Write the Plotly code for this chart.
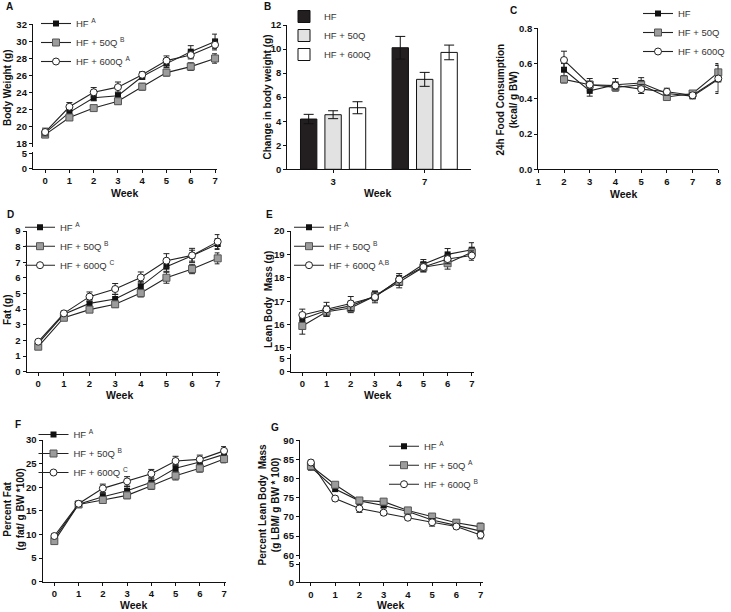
import plotly.graph_objects as go

W, H = 731, 612

weeks = [0, 1, 2, 3, 4, 5, 6, 7]
weeks_food = [2, 3, 4, 5, 6, 7, 8]
groups = ["HF", "HF + 50Q", "HF + 600Q"]

# A: body weight (g)
bw_hf = [19.3, 21.7, 23.4, 23.65, 25.9, 27.4, 28.8, 30.0]
bw_50q = [19.1, 21.1, 22.2, 23.0, 24.7, 26.35, 27.05, 28.0]
bw_600q = [19.4, 22.35, 24.05, 24.65, 26.1, 27.75, 28.4, 29.6]
bw_hf_err = [0.4, 0.4, 0.35, 0.4, 0.35, 0.45, 0.7, 0.85]
bw_50q_err = [0.35, 0.35, 0.3, 0.35, 0.4, 0.4, 0.45, 0.55]
bw_600q_err = [0.45, 0.5, 0.55, 0.6, 0.35, 0.55, 0.45, 0.6]

# B: change in body weight (g)
chg_weeks = ["3", "7"]
chg_hf = [4.18, 10.11]
chg_50q = [4.54, 7.48]
chg_600q = [5.12, 9.72]
chg_hf_err = [0.39, 0.94]
chg_50q_err = [0.33, 0.58]
chg_600q_err = [0.5, 0.61]
chg_letters = [["", "A"], ["", "B"], ["", "A"]]

# C: 24h food consumption (kcal/ g BW)
food_hf = [0.565, 0.445, 0.48, 0.49, 0.43, 0.415, 0.51]
food_50q = [0.51, 0.48, 0.465, 0.48, 0.41, 0.43, 0.55]
food_600q = [0.62, 0.48, 0.475, 0.455, 0.44, 0.42, 0.515]
food_hf_err = [0.035, 0.03, 0.035, 0.03, 0.02, 0.015, 0.08]
food_50q_err = [0.02, 0.02, 0.02, 0.02, 0.015, 0.015, 0.05]
food_600q_err = [0.05, 0.035, 0.02, 0.025, 0.02, 0.015, 0.075]

# D: fat (g)
fat_hf = [1.81, 3.67, 4.37, 4.65, 5.46, 6.72, 7.42, 8.17]
fat_50q = [1.6, 3.45, 3.97, 4.31, 5.03, 6.01, 6.57, 7.25]
fat_600q = [1.92, 3.73, 4.8, 5.29, 6.03, 7.1, 7.44, 8.32]
fat_hf_err = [0.1, 0.15, 0.25, 0.3, 0.3, 0.3, 0.35, 0.35]
fat_50q_err = [0.1, 0.12, 0.15, 0.2, 0.25, 0.35, 0.3, 0.35]
fat_600q_err = [0.1, 0.15, 0.3, 0.35, 0.35, 0.45, 0.45, 0.45]

# E: lean body mass (g)
lean_hf = [16.24, 16.6, 16.8, 17.22, 17.9, 18.58, 19.0, 19.2]
lean_50q = [15.94, 16.55, 16.71, 17.22, 17.82, 18.45, 18.62, 19.09]
lean_600q = [16.41, 16.65, 16.9, 17.18, 17.93, 18.46, 18.8, 18.95]
lean_hf_err = [0.25, 0.2, 0.2, 0.2, 0.2, 0.2, 0.25, 0.3]
lean_50q_err = [0.35, 0.2, 0.2, 0.2, 0.25, 0.2, 0.25, 0.2]
lean_600q_err = [0.25, 0.3, 0.3, 0.25, 0.25, 0.2, 0.2, 0.2]

# F: percent fat
pfat_hf = [9.17, 16.4, 18.0, 19.27, 21.03, 24.0, 25.34, 26.96]
pfat_50q = [8.6, 16.35, 17.3, 18.28, 20.32, 22.44, 24.0, 25.97]
pfat_600q = [9.67, 16.5, 19.76, 21.24, 22.87, 25.55, 25.9, 27.7]
pfat_hf_err = [0.4, 0.5, 0.7, 0.9, 0.9, 0.8, 0.7, 0.8]
pfat_50q_err = [0.4, 0.5, 0.6, 0.7, 0.8, 0.9, 0.8, 0.8]
pfat_600q_err = [0.4, 0.5, 0.9, 1.0, 0.9, 1.0, 0.9, 0.9]

# G: percent lean body mass
plean_hf = [83.0, 77.3, 74.2, 73.0, 71.4, 69.2, 67.8, 66.3]
plean_50q = [83.3, 78.4, 74.3, 74.0, 71.7, 70.1, 68.5, 67.4]
plean_600q = [84.2, 74.8, 72.2, 71.1, 69.8, 68.6, 67.5, 65.3]
plean_hf_err = [0.8, 0.7, 0.6, 0.6, 0.5, 0.6, 0.6, 1.0]
plean_50q_err = [0.8, 0.6, 0.6, 0.6, 0.6, 0.6, 0.6, 1.0]
plean_600q_err = [0.6, 0.6, 1.0, 0.6, 0.6, 1.0, 0.6, 1.0]

FONT = "Liberation Sans, Arial, sans-serif"
INK = "#111111"

marker_styles = [
    dict(symbol="square", size=6, color=INK, line=dict(width=0)),
    dict(symbol="square", size=7, color="#9c9c9c", line=dict(color="#555555", width=1)),
    dict(symbol="circle", size=7, color="white", line=dict(color="#222222", width=1)),
]
bar_fills = ["#231f20", "#e2e2e2", "#ffffff"]


def xd(a, b):
    return [a / W, b / W]


def yd(top, bot):
    return [1 - bot / H, 1 - top / H]


axis_style = dict(
    showline=True, linecolor=INK, linewidth=1.3, ticks="outside", ticklen=3,
    tickwidth=1.3, tickcolor=INK, showgrid=False, zeroline=False, automargin=False,
    tickfont=dict(family=FONT, size=9.5, color=INK, weight="bold"),
)

fig = go.Figure()


def add_lines(x, series, errs, sups, xa, ya, legend):
    for i, (name, ys, es, sup) in enumerate(zip(groups, series, errs, sups)):
        label = name + (" <sup>" + sup + "</sup>" if sup else "")
        fig.add_trace(go.Scatter(
            x=x, y=ys, mode="lines+markers", name=label,
            line=dict(color="#222222", width=1.1),
            marker=marker_styles[i],
            error_y=dict(type="data", array=es, color="#222222", thickness=1, width=3),
            xaxis=xa, yaxis=ya, legend=legend, cliponaxis=False,
        ))


def add_break_stub(xa, ya):
    # empty trace so the lower segment of a broken y axis gets its own subplot
    fig.add_trace(go.Scatter(x=[], y=[], xaxis=xa, yaxis=ya, showlegend=False, hoverinfo="skip"))


add_lines(weeks, [bw_hf, bw_50q, bw_600q], [bw_hf_err, bw_50q_err, bw_600q_err],
          ["A", "B", "A"], "x", "y", "legend")
add_break_stub("x", "y2")

for i, (vals, errs) in enumerate(zip([chg_hf, chg_50q, chg_600q],
                                     [chg_hf_err, chg_50q_err, chg_600q_err])):
    fig.add_trace(go.Bar(
        x=chg_weeks, y=vals, name=groups[i],
        marker=dict(color=bar_fills[i], line=dict(color=INK, width=1)),
        error_y=dict(type="data", array=errs, color=INK, thickness=1, width=5),
        xaxis="x2", yaxis="y3", legend="legend2",
    ))

add_lines(weeks_food, [food_hf, food_50q, food_600q],
          [food_hf_err, food_50q_err, food_600q_err], ["", "", ""], "x3", "y4", "legend3")
add_lines(weeks, [fat_hf, fat_50q, fat_600q], [fat_hf_err, fat_50q_err, fat_600q_err],
          ["A", "B", "C"], "x4", "y5", "legend4")
add_lines(weeks, [lean_hf, lean_50q, lean_600q], [lean_hf_err, lean_50q_err, lean_600q_err],
          ["A", "B", "A,B"], "x5", "y6", "legend5")
add_break_stub("x5", "y7")
add_lines(weeks, [pfat_hf, pfat_50q, pfat_600q], [pfat_hf_err, pfat_50q_err, pfat_600q_err],
          ["A", "B", "C"], "x6", "y8", "legend6")
add_lines(weeks, [plean_hf, plean_50q, plean_600q],
          [plean_hf_err, plean_50q_err, plean_600q_err], ["A", "A", "B"], "x7", "y9", "legend7")
add_break_stub("x7", "y10")

wk_axis = dict(axis_style, dtick=1, tick0=0)
fig.update_layout(
    width=W, height=H, margin=dict(l=0, r=0, t=0, b=0, autoexpand=False),
    paper_bgcolor="white", plot_bgcolor="white",
    bargap=0.2, bargroupgap=0.33,
    # A
    xaxis=dict(wk_axis, domain=xd(33, 217), range=[-0.5, 7.08], anchor="y2"),
    yaxis=dict(axis_style, domain=yd(24.3, 147.4), range=[17.6, 32],
               tickvals=[18, 20, 22, 24, 26, 28, 30, 32], anchor="x"),
    yaxis2=dict(axis_style, domain=yd(152, 168.8), range=[0, 5.5], tickvals=[0, 5], anchor="x"),
    # B
    xaxis2=dict(axis_style, type="category", domain=xd(287.3, 470.5), range=[-0.5, 1.5], anchor="y3"),
    yaxis3=dict(axis_style, domain=yd(25, 169.3), range=[0, 12], dtick=2, anchor="x2"),
    # C
    xaxis3=dict(wk_axis, domain=xd(538.3, 718.3), range=[1, 8], anchor="y4"),
    yaxis4=dict(axis_style, domain=yd(28.3, 169.3), range=[0, 0.8], dtick=0.2,
                tickformat=".1f", anchor="x3"),
    # D
    xaxis4=dict(wk_axis, domain=xd(26.7, 219.5), range=[-0.45, 7.07], anchor="y5"),
    yaxis5=dict(axis_style, domain=yd(231, 371.7), range=[0, 9], dtick=1, anchor="x4"),
    # E
    xaxis5=dict(wk_axis, domain=xd(290.7, 474), range=[-0.48, 7.09], anchor="y7"),
    yaxis6=dict(axis_style, domain=yd(231, 350.3), range=[14.9, 20], tickvals=[15, 16, 17, 18, 19, 20], anchor="x5"),
    yaxis7=dict(axis_style, domain=yd(354.3, 371.7), range=[0, 6.5], tickvals=[0, 5], anchor="x5"),
    # F
    xaxis6=dict(wk_axis, domain=xd(42.7, 226), range=[-0.48, 7.08], anchor="y8"),
    yaxis8=dict(axis_style, domain=yd(440, 581.7), range=[0, 30], dtick=5, anchor="x6"),
    # G
    xaxis7=dict(wk_axis, domain=xd(300, 483), range=[-0.45, 7.1], anchor="y10"),
    yaxis9=dict(axis_style, domain=yd(440.3, 559.1), range=[59, 90],
                tickvals=[60, 65, 70, 75, 80, 85, 90], anchor="x7"),
    yaxis10=dict(axis_style, domain=yd(561.5, 582.3), range=[0, 5.7], tickvals=[0, 5], anchor="x7"),
)

# legends: (symbol centre x, first row centre y) of the reference, in pixels
legend_spots = {
    "legend": (60, 29), "legend2": (308, 22), "legend3": (662, 19),
    "legend4": (44, 232.7), "legend5": (313, 232.7), "legend6": (57.5, 440),
    "legend7": (408, 451.7),
}
for key, (cx, cy) in legend_spots.items():
    fig.update_layout({key: dict(
        x=(cx - 24) / W, y=1 - (cy - 20) / H, xanchor="left", yanchor="top",
        bgcolor="rgba(0,0,0,0)", borderwidth=0, itemwidth=30,
        font=dict(family=FONT, size=9.5, color="#333333"),
    )})

annotations = []


def note(text, px, py, size=10, angle=0, bold=True):
    annotations.append(dict(
        text=text, x=px / W, y=1 - py / H, xref="paper", yref="paper",
        showarrow=False, textangle=angle, xanchor="center", yanchor="middle",
        font=dict(family=FONT, size=size, color=INK, weight="bold" if bold else "normal"),
    ))


for letter, px, py in [("A", 9, 7), ("B", 267.5, 7), ("C", 513.5, 10), ("D", 10, 215),
                       ("E", 269.5, 215), ("F", 17.5, 424), ("G", 275, 427)]:
    note(letter, px, py, size=10)

for px, py in [(124, 193), (377, 193), (623, 194), (119, 395), (377, 395), (133, 605), (391, 605)]:
    note("Week", px, py, size=10.5)

note("Body Weight (g)", 8, 88, angle=-90)
note("Change in body weight (g)", 266.5, 97, angle=-90)
note("24h Food Consumption<br>(kcal/ g BW)", 506.5, 100, angle=-90)
note("Fat (g)", 7, 310, angle=-90)
note("Lean Body  Mass (g)", 268, 300, angle=-90)
note("Percent Fat<br>(g fat/ g BW *100)", 13.5, 510, angle=-90)
note("Percent Lean Body  Mass<br>(g LBM/ g BW * 100)", 268.5, 505, angle=-90)

# significance letters over the week-7 bars
slot = (470.5 - 287.3) / 2 * (1 - 0.2) / 3
for i, (vals, errs, letters) in enumerate(zip([chg_hf, chg_50q, chg_600q],
                                              [chg_hf_err, chg_50q_err, chg_600q_err],
                                              chg_letters)):
    for wk, v, e, t in zip(chg_weeks, vals, errs, letters):
        if t:
            annotations.append(dict(
                text=t, x=wk, y=v + e, xref="x2", yref="y3", showarrow=False,
                xshift=(i - 1) * slot, yshift=9,
                font=dict(family=FONT, size=9.5, color="#333333"),
            ))

fig.update_layout(annotations=annotations)

# drop the browser's default page margin so the figure sits at the top-left corner
fig.write_html("out.html", config={"displayModeBar": False},
               post_script="document.body.style.margin='0';")
